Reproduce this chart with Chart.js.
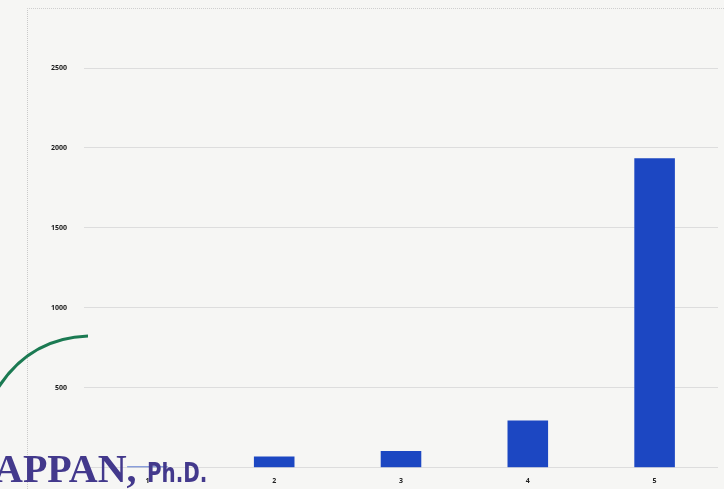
<!DOCTYPE html>
<html>
<head>
<meta charset="utf-8">
<script src="https://cdn.jsdelivr.net/npm/chart.js@4"></script>
<style>
  html, body { margin: 0; padding: 0; background: #f6f6f4; }
  #wrap { position: relative; width: 724px; height: 489px; overflow: hidden; }
  #frame { position: absolute; left: 27px; top: 8px; width: 700px; height: 500px;
           border-left: 1px dotted #c9c9c9; border-top: 1px dotted #cfcfcf; }
  #stamp { position: absolute; left: -6px; top: 446px; font-family: "Liberation Serif", serif;
           font-weight: bold; font-size: 40px; line-height: 46px; color: #43398c; white-space: nowrap; }
  #stamp span { font-family: "DejaVu Sans Condensed", "DejaVu Sans", sans-serif; font-size: 26px;
                display: inline-block; transform: scaleX(0.85); transform-origin: left; }
  #pen { position: absolute; left: 0; top: 0; }
</style>
</head>
<body>
<div id="wrap">
  <div id="frame"></div>
  <canvas id="grafico" width="724" height="489"></canvas>
  <svg id="pen" width="724" height="489">
    <path d="M -2 388 Q 30 338 88 336" stroke="#1b7a52" stroke-width="3" fill="none"/>
  </svg>
  <div id="stamp">APPAN, <span>Ph.D.</span></div>
</div>
<script>
// Categorías y valores
const categorias = ["1", "2", "3", "4", "5"];
const valores = [8, 70, 105, 295, 1935];
const ticksY = [0, 500, 1000, 1500, 2000, 2500];

const ctx = document.getElementById('grafico').getContext('2d');

new Chart(ctx, {
  type: 'bar',
  data: {
    labels: categorias,
    datasets: [{
      data: valores,
      backgroundColor: '#1c47c2',
      borderWidth: 0,
      barPercentage: 0.32,
      categoryPercentage: 1
    }]
  },
  options: {
    responsive: false,
    animation: false,
    devicePixelRatio: 1,
    layout: { padding: { top: 68, right: 6, bottom: 0, left: 0 } },
    plugins: { legend: { display: false }, tooltip: { enabled: false } },
    scales: {
      x: {
        grid: { display: false },
        border: { display: false },
        ticks: { color: '#222', font: { family: 'Open Sans', size: 7, weight: 'bold' }, padding: 1 }
      },
      y: {
        min: 0,
        max: 2500,
        afterBuildTicks: s => { s.ticks = ticksY.map(v => ({ value: v })); },
        afterFit: s => { s.width = 84; },
        grid: { color: '#dddddd', lineWidth: 1, drawTicks: false },
        border: { display: false },
        ticks: {
          color: '#1a1a1a',
          font: { family: 'Open Sans', size: 7, weight: 'bold' },
          padding: 17,
          callback: v => v === 0 ? '' : v
        }
      }
    }
  }
});
</script>
</body>
</html>
